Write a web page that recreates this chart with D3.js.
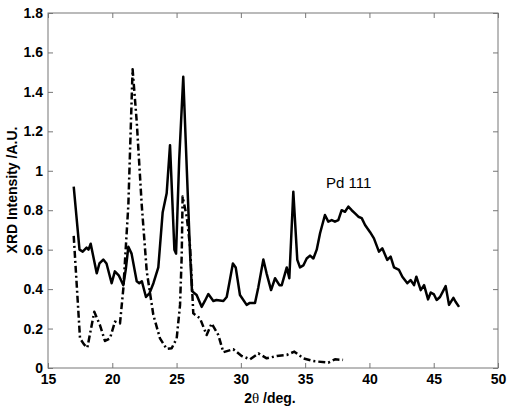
<!DOCTYPE html>
<html><head><meta charset="utf-8">
<script src="https://cdn.jsdelivr.net/npm/d3@7"></script>
<style>body{margin:0;background:#fff}svg{display:block}</style>
</head><body>
<svg id="c" width="508" height="409"></svg>
<script>
const xTicks = [15,20,25,30,35,40,45,50];
const yTicks = [0,0.2,0.4,0.6,0.8,1,1.2,1.4,1.6,1.8];
const solidX = [17.0,17.45,17.7,18.0,18.15,18.32,18.79,19.0,19.3,19.55,19.95,20.2,20.5,20.86,21.05,21.25,21.5,21.9,22.1,22.3,22.62,22.9,23.2,23.58,23.92,24.23,24.49,24.83,24.96,25.2,25.52,25.8,26.05,26.2,26.56,26.95,27.2,27.47,27.86,28.1,28.64,28.9,29.1,29.38,29.6,29.93,30.45,30.7,31.1,31.36,31.75,32.0,32.35,32.66,33.0,33.18,33.57,33.77,34.08,34.39,34.6,34.86,35.12,35.38,35.64,35.9,36.16,36.54,36.8,37.07,37.32,37.58,37.84,38.1,38.36,38.62,38.88,39.14,39.4,39.66,40.04,40.35,40.74,41.0,41.39,41.65,41.91,42.3,42.56,42.95,43.2,43.47,43.65,43.99,44.25,44.56,44.77,45.02,45.23,45.49,45.93,46.19,46.53,46.7,46.97];
const solidY = [0.92,0.60,0.59,0.61,0.60,0.63,0.48,0.53,0.55,0.53,0.43,0.49,0.47,0.42,0.50,0.615,0.58,0.44,0.43,0.44,0.36,0.38,0.43,0.51,0.79,0.886,1.13,0.60,0.58,1.05,1.477,1.0,0.58,0.39,0.37,0.31,0.34,0.375,0.34,0.345,0.34,0.36,0.43,0.53,0.51,0.37,0.32,0.33,0.33,0.41,0.55,0.48,0.395,0.455,0.42,0.42,0.51,0.455,0.894,0.548,0.51,0.52,0.555,0.57,0.555,0.60,0.683,0.776,0.742,0.75,0.742,0.75,0.80,0.792,0.818,0.80,0.784,0.767,0.76,0.725,0.69,0.657,0.59,0.607,0.548,0.565,0.51,0.497,0.463,0.43,0.446,0.42,0.463,0.395,0.42,0.348,0.383,0.373,0.345,0.36,0.415,0.32,0.356,0.336,0.31];
const dashX = [17.0,17.49,17.8,18.06,18.6,19.04,19.43,19.82,20.21,20.6,20.86,21.25,21.58,21.9,22.29,22.68,23.19,23.71,24.23,24.62,25.01,25.27,25.4,25.47,25.79,26.05,26.3,26.82,27.34,27.73,28.25,28.64,29.41,30.06,30.71,31.36,32.01,32.79,33.57,34.16,34.86,35.64,36.8,37.32,37.95];
const dashY = [0.67,0.15,0.12,0.103,0.285,0.218,0.137,0.15,0.235,0.226,0.404,0.827,1.515,1.25,0.827,0.49,0.27,0.15,0.097,0.10,0.15,0.32,0.57,0.869,0.767,0.615,0.277,0.252,0.167,0.226,0.167,0.08,0.095,0.061,0.044,0.074,0.049,0.061,0.066,0.083,0.049,0.035,0.027,0.044,0.041];

const svg = d3.select('#c');
const L=48, R=498, T=13, B=368;
const x = d3.scaleLinear().domain([15,50]).range([L,R]);
const y = d3.scaleLinear().domain([0,1.8]).range([B,T]);
const font = 'Arial, "Liberation Sans", sans-serif';

function styleAxis(g, labels){
  g.select('.domain').remove();
  g.selectAll('.tick line').attr('stroke','#777').attr('stroke-width',1);
  g.selectAll('.tick text').attr('fill', labels?'#000':'none')
   .style('font-family',font).style('font-size','14px').style('font-weight','bold');
}
svg.append('g').attr('transform',`translate(0,${B})`)
  .call(d3.axisBottom(x).tickValues(xTicks).tickSizeInner(-5).tickSizeOuter(0).tickPadding(6).tickFormat(d3.format('d')))
  .call(g=>styleAxis(g,true));
svg.append('g').attr('transform',`translate(0,${T})`)
  .call(d3.axisTop(x).tickValues(xTicks).tickSizeInner(-5).tickSizeOuter(0).tickFormat(''))
  .call(g=>styleAxis(g,false));
svg.append('g').attr('transform',`translate(${L},0)`)
  .call(d3.axisLeft(y).tickValues(yTicks).tickSizeInner(-5).tickSizeOuter(0).tickPadding(5).tickFormat(d=>d===0?'0':(d===1?'1':d3.format('.1f')(d))))
  .call(g=>styleAxis(g,true));
svg.append('g').attr('transform',`translate(${R},0)`)
  .call(d3.axisRight(y).tickValues(yTicks).tickSizeInner(-5).tickSizeOuter(0).tickFormat(''))
  .call(g=>styleAxis(g,false));
svg.append('rect').attr('x',L).attr('y',T).attr('width',R-L).attr('height',B-T)
  .attr('fill','none').attr('stroke','#777').attr('stroke-width',1);

const line = d3.line().x(d=>x(d[0])).y(d=>y(d[1]));
svg.append('path').datum(dashX.map((v,i)=>[v,dashY[i]]))
  .attr('d',line).attr('fill','none').attr('stroke','#000').attr('stroke-width',2.5)
  .attr('stroke-dasharray','7,3,2,3').attr('stroke-linejoin','round');
svg.append('path').datum(solidX.map((v,i)=>[v,solidY[i]]))
  .attr('d',line).attr('fill','none').attr('stroke','#000').attr('stroke-width',2.5)
  .attr('stroke-linejoin','round');

svg.append('text').attr('x',326).attr('y',188).text('Pd 111')
  .style('font-family',font).style('font-size','15px').attr('fill','#000');
const xl = svg.append('text').attr('x',270).attr('y',403).attr('text-anchor','middle')
  .style('font-family',font).style('font-size','14px').style('font-weight','bold');
xl.append('tspan').text('2');
xl.append('tspan').style('font-family','"Liberation Serif", "DejaVu Serif", serif').style('font-weight','normal').style('font-size','15px').text('θ');
xl.append('tspan').text(' /deg.');
svg.append('text').attr('transform','translate(17,190) rotate(-90)').attr('text-anchor','middle')
  .style('font-family',font).style('font-size','14px').style('font-weight','bold')
  .text('XRD Intensity /A.U.');
</script>
</body></html>
